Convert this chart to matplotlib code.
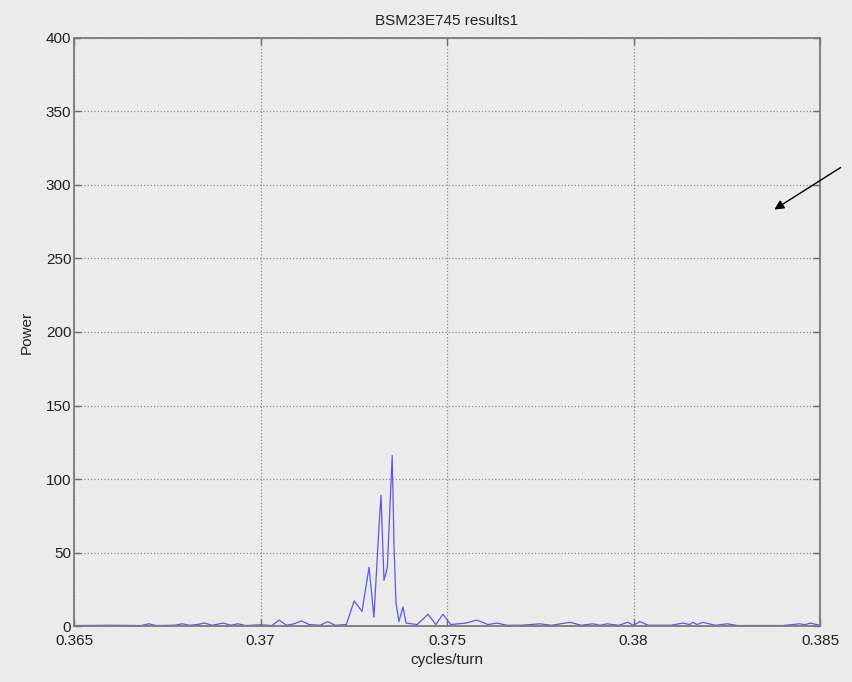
import matplotlib
matplotlib.use("Agg")
import matplotlib.pyplot as plt
from matplotlib.ticker import MultipleLocator

# values (vertices of the spectrum trace)
freq = [0.3650, 0.3660, 0.3668, 0.3670, 0.3672, 0.3677, 0.3679, 0.3681, 0.3683,
        0.3685, 0.3687, 0.3690, 0.3692, 0.3694, 0.3696, 0.3700, 0.3703, 0.3705,
        0.3707, 0.3709, 0.3711, 0.3713, 0.3716, 0.3718, 0.3720, 0.3723, 0.37251,
        0.37272, 0.37291, 0.37304, 0.37318, 0.37323, 0.37331, 0.3734, 0.37353,
        0.37358, 0.37363, 0.37371, 0.37382, 0.3739, 0.3742, 0.37449, 0.3747,
        0.37489, 0.3751, 0.3755, 0.3758, 0.3761, 0.37634, 0.3766, 0.3770, 0.37749,
        0.3778, 0.3783, 0.3786, 0.37891, 0.3791, 0.37929, 0.3796, 0.37985, 0.3800,
        0.38017, 0.3804, 0.3810, 0.38133, 0.3815, 0.3816, 0.3817, 0.38186, 0.3822,
        0.38251, 0.3828, 0.3840, 0.38446, 0.3846, 0.38473, 0.3850]
power = [0.3, 0.5, 0.3, 1.5, 0.3, 0.5, 1.5, 0.5, 1.0,
         2.0, 0.5, 2.0, 0.5, 1.5, 0.3, 0.8, 0.3, 4.0,
         0.5, 1.5, 3.5, 1.0, 0.5, 3.0, 0.5, 1.0, 17,
         10, 40, 6, 69, 89, 31, 40, 116,
         54, 16, 3, 13, 2, 1.0, 8, 1,
         8, 1, 2, 4, 1, 2, 0.5, 0.5, 1.5,
         0.5, 2.5, 0.5, 1.5, 0.5, 1.5, 0.5, 2.5, 0.5,
         3, 0.5, 0.5, 2, 1, 2.5, 1, 2.5, 0.5,
         1.5, 0.3, 0.3, 1.5, 0.8, 2, 0.5]

xticks = [0.365, 0.37, 0.375, 0.38, 0.385]
xticklabels = ['0.365', '0.37', '0.375', '0.38', '0.385']

plt.rcParams['font.family'] = ['Liberation Sans', 'DejaVu Sans']
bg = '#ebebeb'
txt = '#222222'

fig = plt.figure(figsize=(8.53, 6.82), dpi=100, facecolor=bg)
ax = fig.add_axes([0.0868, 0.0821, 0.8745, 0.8622], facecolor=bg)

ax.plot(freq, power, color='#5a5ae6', lw=0.9)

ax.set_xlim(0.365, 0.385)
ax.set_ylim(0, 400)
ax.set_xticks(xticks)
ax.set_xticklabels(xticklabels)
ax.yaxis.set_major_locator(MultipleLocator(50))

ax.grid(True, linestyle=':', color='#8c8c8c', lw=0.9)
ax.tick_params(direction='in', top=True, right=True, length=5, width=1,
               color='#6e6e6e', labelsize=11, labelcolor=txt)
ax.tick_params(axis='x', pad=6)
ax.tick_params(axis='y', pad=2)
for s in ax.spines.values():
    s.set_color('#7a7a7a')
    s.set_linewidth(1.3)

ax.set_title('BSM23E745 results1', fontsize=11, color=txt, pad=9)
ax.set_xlabel('cycles/turn', fontsize=11, color=txt, labelpad=3)
ax.set_ylabel('Power', fontsize=11, color=txt, labelpad=9)

# pointer arrow on the right side
ax.annotate('', xy=(772 / 853, 1 - 211 / 682), xycoords='figure fraction',
            xytext=(843 / 853, 1 - 166 / 682), textcoords='figure fraction',
            arrowprops=dict(arrowstyle='-|>', color='black', lw=1,
                            mutation_scale=14),
            annotation_clip=False)

plt.savefig('out.png', dpi=100, facecolor=bg)
